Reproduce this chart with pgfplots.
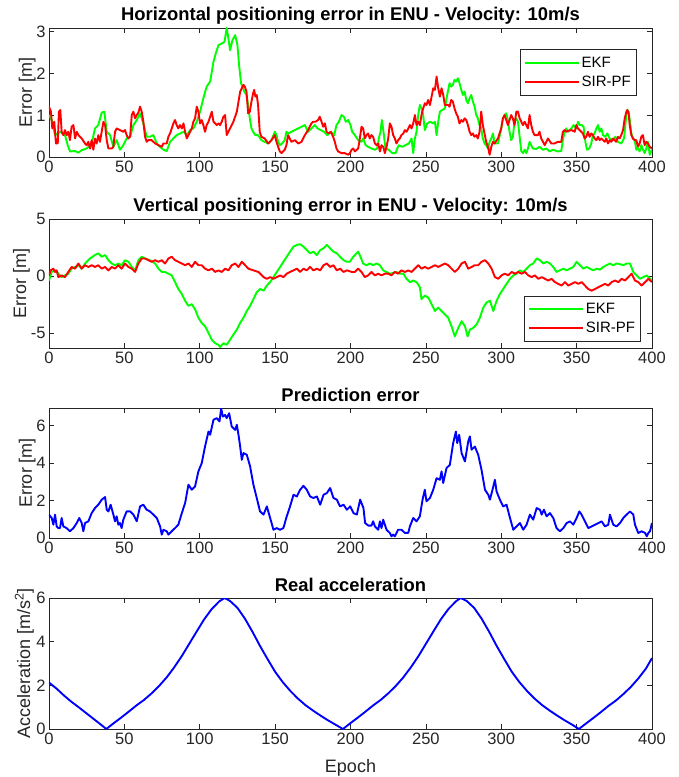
\documentclass[border=0pt]{standalone}
\usepackage{pgfplots}
\pgfplotsset{compat=1.18}
\usepackage{fontspec}
\setmainfont{Liberation Sans}
\definecolor{axgray}{rgb}{0.15,0.15,0.15}
\definecolor{mgreen}{rgb}{0,1,0}
\definecolor{mred}{rgb}{1,0,0}
\definecolor{mblue}{rgb}{0,0,1}
\newcommand{\tickfont}{\fontsize{16.5}{16.5}\selectfont}
\newcommand{\labfont}{\fontsize{18}{18}\selectfont}
\pgfplotsset{
  mat/.style={
    scale only axis, width=603pt, anchor=south west,
    xmin=0, xmax=400, xtick={0,50,...,400},
    axis line style={color=axgray, line width=0.7pt},
    tick style={color=axgray, line width=0.7pt},
    major tick length=5pt, tick align=inside,
    ticklabel style={font=\tickfont, color=axgray},
    /pgf/number format/assume math mode=true,
    every axis title/.style={at={(0.5,1)}, anchor=base, yshift=7pt, font=\bfseries\fontsize{18.4}{18.4}\selectfont},
    every axis y label/.style={at={(axis description cs:-0.0282,0.5)}, rotate=90, anchor=base, font=\labfont, color=axgray},
    every axis plot/.append style={line width=1.9pt, line join=round},
    legend image code/.code={\draw[##1, line width=1.9pt] (0pt,0pt) -- (54pt,0pt);},
    legend cell align=left,
  },
  mleg/.style={draw=axgray, line width=0.6pt, fill=white, font=\fontsize{15}{15}\selectfont, inner xsep=3.5pt, inner ysep=5.5pt, row sep=3pt},
}
\begin{document}
\begin{tikzpicture}[x=1pt,y=1pt]
\useasboundingbox (0,0) rectangle (678,777);
% ---------------- Panel 1
\begin{axis}[mat, at={(49pt,619.7pt)}, height=129.3pt,
  ymin=0, ymax=3.09, ytick={0,1,2,3},
  title={Horizontal positioning error in ENU - Velocity: 10m/s},
  ylabel={Error [m]},
  legend style={mleg, at={(0.781,0.835)}, anchor=north west}]
\addplot[mgreen] coordinates {(0,1.01)(1.8,0.89)(4,0.53)(7.3,0.61)(10.6,0.53)(12.4,0.29)(14,0.14)(17.3,0.15)(19.5,0.11)(21.7,0.17)(25,0.21)(28.3,0.33)(30.5,0.69)(32.7,0.77)(35,1.07)(36.7,1.09)(38.3,0.61)(40.5,0.53)(42.7,0.25)(44.9,0.41)(47.1,0.18)(49.3,0.29)(51.5,0.45)(53.8,0.49)(56,0.77)(58.2,0.89)(60.4,1.05)(62.6,0.81)(64.8,0.49)(67,0.49)(69.2,0.53)(71.5,0.33)(73.7,0.25)(75.9,0.18)(78.1,0.15)(80.3,0.37)(82.5,0.45)(84.7,0.53)(86.9,0.57)(89.2,0.61)(91.4,0.53)(93.6,0.65)(95.8,0.69)(98,0.85)(100.2,1.09)(102.4,1.41)(104.6,1.69)(106.9,1.81)(109.1,2.28)(110.6,2.48)(112.4,2.68)(114.6,2.72)(116.4,2.76)(117.9,3.09)(119,2.84)(120.1,2.56)(121.7,2.80)(123.5,2.92)(125,2.68)(126.1,2.20)(127.4,1.77)(129.6,1.57)(131,1.49)(132.1,1.25)(133.2,0.93)(134.3,0.69)(135.4,0.61)(136.9,0.53)(138.7,0.53)(140.9,0.41)(143.1,0.37)(145.4,0.33)(147.6,0.41)(149.8,0.61)(150.9,0.53)(152,0.37)(153.1,0.29)(154.6,0.33)(156.4,0.41)(157.5,0.61)(159.1,0.57)(160.8,0.61)(163.1,0.65)(165.3,0.69)(167.5,0.73)(169.7,0.77)(170.8,0.69)(171.9,0.61)(174.1,0.69)(176.3,0.77)(178.1,0.69)(180.3,0.65)(182.5,0.61)(184.7,0.53)(186.9,0.61)(189.2,0.53)(190.7,0.77)(192.3,0.85)(194,1.01)(195.6,0.97)(196.9,0.85)(198.5,0.89)(200,0.77)(201.1,0.61)(202.9,0.53)(205.1,0.41)(207.3,0.37)(208.4,0.45)(210,0.29)(211.7,0.25)(213.9,0.21)(216.2,0.18)(217.7,0.21)(218.8,0.45)(219.9,0.61)(220.8,0.89)(221.9,0.61)(223.2,0.21)(225.4,0.18)(227.7,0.10)(229.9,0.10)(231,0.21)(232.1,0.29)(234.3,0.25)(236.5,0.29)(238.7,0.33)(240.5,0.45)(241.6,0.10)(242.7,0.45)(243.8,0.61)(244.9,1.01)(246,1.25)(247.1,1.17)(248.2,1.01)(249.3,0.65)(250.9,0.81)(252.9,0.85)(254.9,0.81)(256,0.85)(257.1,0.53)(258.2,0.85)(259.3,1.09)(260.8,1.13)(262.6,1.17)(263.7,1.41)(264.6,1.57)(265.7,1.77)(266.8,1.69)(267.9,1.73)(269,1.85)(270.1,1.81)(271.2,1.89)(272.3,1.77)(273.5,1.61)(274.6,1.49)(275.7,1.57)(276.8,1.37)(277.9,1.29)(279,1.41)(280.1,1.49)(281.2,1.33)(282.3,1.21)(283.4,1.01)(284.5,0.93)(285.6,0.77)(286.7,0.69)(287.8,0.45)(288.9,0.33)(290,0.29)(291.2,0.21)(292.3,0.37)(293.4,0.45)(294.5,0.57)(295.6,0.33)(297.8,0.33)(300,0.69)(301.1,0.93)(302.2,1.01)(303.3,1.05)(304.4,0.89)(305.5,0.61)(306.6,0.41)(307.7,0.49)(308.8,0.85)(310,0.93)(311.1,0.85)(312.2,0.49)(313.3,0.14)(314.4,0.10)(315.5,0.18)(316.6,0.10)(317.7,0.21)(318.8,0.37)(319.9,0.29)(321,0.21)(323.2,0.20)(325.4,0.25)(327.7,0.18)(329.9,0.21)(332.1,0.14)(334.3,0.18)(337.6,0.14)(339.8,0.15)(340.9,0.41)(342,0.61)(343.1,0.69)(344.2,0.61)(346.5,0.69)(348,0.77)(349.8,0.69)(350.9,0.85)(352,0.77)(353.5,0.77)(354.6,0.73)(355.8,0.37)(356.9,0.18)(358.4,0.21)(359.7,0.33)(360.8,0.53)(361.9,0.57)(363.1,0.69)(364.2,0.77)(365.3,0.61)(366.4,0.69)(367.5,0.53)(369,0.49)(370.4,0.57)(371.9,0.45)(374.1,0.41)(375.7,0.49)(377.4,0.37)(379.6,0.33)(381.4,0.45)(383,1.01)(383.6,1.13)(384.5,1.09)(385.4,0.85)(386.3,0.57)(387.4,0.45)(388.5,0.41)(389.6,0.18)(390.7,0.21)(391.8,0.14)(392.9,0.29)(394,0.18)(395.1,0.10)(396.2,0.21)(397.3,0.37)(398.5,0.06)(400,0.18)};
\addlegendentry{EKF}
\addplot[mred] coordinates {(0,1.21)(1.3,1.09)(2.2,0.69)(3.5,0.85)(4.6,0.33)(5.8,0.33)(6.6,1.09)(7.5,1.13)(8.4,0.61)(9.5,0.53)(10.6,0.65)(11.7,0.53)(12.8,0.61)(13.9,0.41)(15,0.73)(16.2,0.77)(17.3,0.45)(18.4,0.61)(19.5,0.53)(21.7,0.45)(23.9,0.33)(25,0.29)(26.1,0.37)(27.2,0.21)(28.3,0.41)(29.4,0.18)(30.5,0.45)(31.6,0.33)(32.7,0.53)(33.8,0.37)(36.1,0.85)(37.2,0.77)(38.3,0.41)(39.4,0.21)(41.6,0.21)(42.7,0.25)(43.8,0.61)(44.9,0.69)(47.1,0.65)(49.3,0.61)(50.4,0.65)(51.5,0.53)(52.7,0.45)(53.8,0.49)(54.9,1.01)(56,1.09)(57.1,0.93)(58.2,1.01)(59.3,1.07)(60.4,1.21)(61.5,1.09)(62.6,0.85)(63.7,0.49)(64.8,0.37)(65.9,0.41)(68.1,0.41)(70.4,0.33)(72.6,0.29)(74.8,0.25)(75.9,0.33)(78.1,0.33)(79.2,0.49)(80.3,0.57)(81.4,0.69)(82.5,0.81)(83.6,0.89)(84.7,0.77)(85.8,0.69)(86.9,0.77)(88.1,0.69)(89.2,0.81)(90.3,0.61)(91.4,0.45)(92.5,0.53)(93.6,0.61)(94.7,0.69)(95.8,0.85)(96.9,0.93)(98,1.21)(99.1,1.09)(100.2,0.81)(101.3,0.89)(102.4,0.77)(103.5,0.61)(104.6,0.77)(105.8,0.85)(106.9,0.97)(108,1.09)(109.1,0.85)(110.2,0.81)(111.3,0.77)(112.4,0.81)(113.5,0.77)(114.6,0.85)(115.7,0.97)(116.8,1.01)(117.9,0.53)(119,0.61)(120.1,0.69)(122.3,0.85)(124.6,1.09)(126.8,1.57)(129,1.73)(129.9,1.69)(131,1.57)(132.1,1.05)(133.2,1.09)(134.3,1.33)(135.4,1.53)(136.1,1.61)(136.9,1.45)(137.8,1.49)(138.7,1.25)(139.8,0.61)(140.9,0.49)(143.1,0.45)(145.4,0.33)(147.6,0.41)(149.8,0.53)(150.9,0.37)(152,0.25)(153.1,0.14)(154.2,0.10)(156.4,0.18)(157.5,0.29)(158.6,0.53)(159.7,0.45)(160.8,0.37)(163.1,0.41)(165.3,0.33)(167.5,0.37)(169.7,0.53)(171.9,0.65)(174.1,0.81)(175.2,0.85)(176.8,0.85)(178.5,0.89)(179.6,0.97)(180.8,0.85)(181.9,0.73)(183,0.81)(184.1,0.61)(185.6,0.57)(186.9,0.61)(188.5,0.49)(189.6,0.37)(190.7,0.21)(191.8,0.14)(194,0.10)(196.2,0.10)(198.5,0.06)(199.6,0.10)(200.7,0.18)(201.8,0.21)(202.9,0.14)(205.1,0.21)(206.2,0.45)(207.3,0.73)(208.4,0.69)(209.5,0.45)(210.6,0.53)(211.7,0.57)(212.8,0.45)(213.9,0.53)(215,0.49)(216.2,0.33)(217.3,0.29)(218.4,0.33)(219.5,0.14)(220.6,0.29)(221.7,0.25)(222.8,0.10)(223.9,0.25)(225,0.45)(226.1,0.81)(227.2,0.73)(228.3,0.53)(229.4,0.45)(230.5,0.33)(231.6,0.41)(232.7,0.45)(233.8,0.53)(235,0.57)(236.1,0.65)(237.2,0.61)(238.3,0.69)(239.4,0.77)(240.5,0.69)(241.6,0.81)(242.7,1.01)(243.8,0.77)(244.9,0.85)(246,0.77)(247.1,1.01)(248.2,1.17)(249.3,1.29)(250.4,1.25)(251.5,1.37)(252.7,1.25)(253.8,1.45)(254.9,1.65)(256,1.61)(257.1,1.93)(258.2,1.65)(259.3,1.45)(260.4,1.65)(261.5,1.49)(262.6,1.25)(264.8,1.25)(265.7,1.21)(266.8,1.37)(267.9,1.33)(269,1.17)(270.1,1.05)(271.2,0.97)(272.3,0.81)(273.5,0.89)(274.6,0.85)(275.7,0.93)(276.8,0.89)(277.9,0.77)(279,0.61)(280.1,0.53)(281.2,0.57)(282.3,0.49)(283.4,0.53)(284.5,0.45)(285.6,0.61)(286.7,1.09)(287.8,0.77)(288.9,0.57)(290,0.37)(291.2,0.25)(292.3,0.06)(293.4,0.25)(294.5,0.37)(295.6,0.33)(297.8,0.45)(300,0.69)(301.1,0.93)(302.2,1.01)(303.3,0.89)(304.4,0.77)(305.5,0.89)(306.6,1.01)(307.7,0.93)(308.8,0.77)(310,1.09)(311.1,1.09)(312.2,0.93)(313.3,0.85)(314.4,0.77)(315.5,0.85)(316.6,0.77)(317.7,0.69)(318.8,1.01)(319.9,0.77)(321,0.61)(322.1,0.53)(324.3,0.53)(325.4,0.61)(326.5,0.45)(327.7,0.37)(328.8,0.29)(329.9,0.37)(331,0.45)(333.2,0.33)(335.4,0.33)(337.6,0.37)(339.8,0.37)(340.9,0.61)(342,0.65)(343.1,0.61)(344.2,0.63)(346.5,0.65)(348.7,0.61)(349.8,0.77)(350.9,0.69)(353.1,0.61)(354.2,0.57)(355.3,0.45)(356.4,0.49)(357.5,0.61)(358.6,0.49)(359.7,0.57)(360.8,0.53)(361.9,0.45)(363.1,0.41)(364.2,0.49)(365.3,0.41)(366.4,0.45)(368.6,0.37)(369.7,0.45)(370.8,0.33)(371.9,0.41)(373,0.37)(374.1,0.45)(375.2,0.41)(376.3,0.37)(377.4,0.49)(378.5,0.45)(379.6,0.53)(380.8,0.65)(381.9,0.93)(383,1.09)(383.6,1.13)(384.5,1.05)(385.2,0.77)(386.3,0.53)(387.4,0.45)(388.5,0.41)(389.6,0.41)(390.7,0.25)(391.8,0.33)(392.9,0.49)(394,0.53)(395.1,0.29)(396.2,0.37)(397.3,0.33)(398.5,0.25)(400,0.21)};
\addlegendentry{SIR-PF}
\end{axis}
% ---------------- Panel 2
\begin{axis}[mat, at={(49pt,429pt)}, height=129pt,
  ymin=-6.3, ymax=5, ytick={-5,0,5},
  title={Vertical positioning error in ENU - Velocity: 10m/s},
  ylabel={Error [m]},
  every axis y label/.style={at={(axis description cs:-0.0381,0.5)}, rotate=90, anchor=base, font=\labfont, color=axgray},
  legend style={mleg, at={(0.788,0.047)}, anchor=south west}]
\addplot[mgreen] coordinates {(0,-0.39)(1.8,0.36)(4,0.50)(6.2,0.21)(8.4,-0.09)(10.6,0.06)(12.8,0.21)(15,0.65)(17.3,0.80)(19.5,0.95)(21.7,0.65)(23.9,1.10)(27.2,1.54)(30.5,1.84)(32.7,1.99)(35,1.69)(37.2,1.84)(39.4,1.39)(41.6,1.10)(43.8,0.95)(46,1.10)(48.2,0.95)(50.4,1.39)(52.7,1.25)(54.9,0.80)(57.1,0.50)(59.3,1.39)(61.5,1.69)(63.7,1.54)(67,1.39)(70.4,1.10)(72.6,0.65)(74.8,0.36)(77,0.36)(79.2,0.21)(81.4,0.06)(83.6,-0.53)(85.8,-1.13)(88.1,-1.57)(90.3,-2.17)(92.5,-2.61)(94.7,-2.46)(96.9,-2.91)(99.1,-3.65)(101.3,-4.10)(103.5,-4.39)(105.8,-4.99)(108,-5.58)(110.2,-5.88)(112.4,-6.02)(113.5,-6.22)(115.7,-5.88)(117.9,-6.02)(120.1,-5.58)(122.3,-5.13)(124.6,-4.69)(126.8,-4.10)(129,-3.65)(131.2,-3.06)(133.4,-2.61)(135.6,-2.02)(137.8,-1.42)(140,-1.13)(142.3,-1.28)(144.5,-0.83)(146.7,-0.53)(148.9,-0.09)(151.1,0.36)(153.3,0.80)(155.5,1.25)(157.7,1.69)(159.9,2.14)(162.2,2.58)(164.4,2.73)(166.6,2.79)(168.8,2.58)(171,2.28)(173.2,1.99)(175.4,2.14)(177.7,1.84)(179.9,2.28)(182.1,2.43)(184.3,2.73)(186.5,2.43)(188.7,2.14)(190.9,1.99)(193.1,1.69)(195.4,1.39)(197.6,1.25)(199.6,1.25)(201.8,1.69)(204,1.99)(205.1,2.14)(206.6,1.69)(208.4,1.10)(210.6,0.95)(212.8,1.10)(215,0.95)(217.3,1.10)(219.5,0.95)(221.7,0.50)(223.9,0.36)(226.1,0.21)(228.3,0.27)(230.5,0.36)(232.7,0.21)(235,0.21)(237.2,-0.24)(239.4,-0.53)(241.6,-0.39)(243.8,-0.53)(246,-0.98)(247.1,-2.02)(249.3,-1.72)(251.5,-1.87)(253.8,-2.46)(256,-3.06)(258.2,-2.76)(260.4,-3.06)(262.6,-3.35)(264.8,-3.65)(267,-4.39)(269.2,-5.28)(271.5,-4.54)(273.7,-3.95)(275.9,-4.39)(277.7,-5.28)(279.2,-4.69)(281.4,-4.54)(283.6,-4.24)(285.8,-3.65)(288.1,-2.76)(290.3,-2.31)(292.5,-2.17)(294.7,-3.06)(296.9,-2.17)(299.1,-1.57)(301.3,-1.13)(303.5,-0.68)(305.8,-0.24)(308,0.06)(310.2,0.21)(312.4,0.50)(314.6,0.36)(316.8,0.65)(319,0.95)(321.2,1.10)(323.5,1.54)(325.7,1.39)(327.9,1.10)(330.1,1.25)(332.3,1.10)(334.5,0.80)(336.7,0.36)(338.9,0.50)(341.2,0.65)(343.4,0.50)(345.6,0.65)(347.8,0.80)(350,1.25)(352.2,0.95)(354.4,0.65)(356.6,0.80)(358.8,0.65)(361.1,0.50)(363.3,0.65)(365.5,0.56)(367.7,0.80)(369.9,0.95)(372.1,1.10)(374.3,0.95)(376.5,1.10)(378.8,1.04)(381,0.95)(383.2,1.10)(385.4,1.10)(387.6,0.36)(389.8,0.06)(392,-0.24)(394.2,-0.09)(396.5,0.06)(398.7,-0.24)(400,-0.45)};
\addlegendentry{EKF}
\addplot[mred] coordinates {(0,0.06)(1.1,0.50)(2.9,0.65)(4,0.36)(5.1,0.50)(6.2,-0.09)(8.4,0.06)(10.6,-0.09)(12.8,0.36)(15,0.80)(17.3,0.65)(19.5,1.10)(21.7,0.65)(23.9,0.95)(26.1,0.80)(28.3,0.95)(30.5,0.80)(32.7,0.95)(35,0.65)(37.2,0.80)(39.4,0.50)(41.6,0.80)(43.8,0.65)(46,0.95)(48.2,0.65)(50.4,1.10)(52.7,0.80)(54.9,0.65)(57.1,0.36)(59.3,1.10)(61.5,1.54)(63.7,1.54)(65.9,1.39)(68.1,1.25)(70.4,1.39)(72.6,1.25)(74.8,1.39)(77,1.10)(79.2,1.54)(81.4,1.69)(83.6,1.39)(85.8,1.25)(88.1,1.10)(90.3,0.95)(92.5,1.10)(94.7,0.80)(96.9,1.25)(99.1,0.95)(101.3,0.95)(103.5,0.65)(105.8,0.50)(108,0.65)(110.2,0.36)(112.4,0.50)(114.6,0.36)(116.8,0.65)(119,0.50)(121.2,0.95)(123.5,1.10)(125.7,0.80)(127.9,1.25)(130.1,0.95)(132.3,0.65)(135.6,0.50)(138.9,0.36)(142.3,-0.09)(144.5,-0.24)(146.7,-0.09)(148.9,-0.24)(151.1,-0.09)(153.3,0.06)(155.5,-0.09)(157.7,0.21)(159.9,0.36)(162.2,0.50)(164.4,0.65)(166.6,0.36)(168.8,0.65)(171,0.50)(173.2,0.80)(175.4,0.50)(177.7,0.65)(179.9,0.50)(182.1,0.95)(184.3,1.10)(186.5,0.80)(188.7,0.95)(190.9,0.50)(193.1,0.65)(195.4,0.36)(197.6,0.50)(200.9,0.36)(202.9,0.36)(205.1,0.65)(207.3,0.36)(209.5,-0.09)(211.7,0.06)(213.9,0.36)(216.2,0.06)(218.4,0.21)(220.6,0.06)(222.8,0.21)(225,0.21)(227.2,0.06)(229.4,0.36)(231.6,0.21)(233.8,0.50)(236.1,0.36)(238.3,0.50)(240.5,0.36)(242.7,0.65)(244.9,0.95)(247.1,0.65)(249.3,0.80)(251.5,0.65)(253.8,0.80)(256,0.95)(258.2,0.80)(260.4,0.95)(262.6,1.10)(264.8,0.95)(267,0.65)(269.2,0.36)(271.5,0.65)(273.7,1.10)(275.9,1.25)(278.1,0.65)(280.3,0.80)(282.5,0.95)(284.7,0.95)(286.9,1.25)(289.2,1.39)(291.4,1.10)(293.6,0.65)(295.8,-0.09)(298,-0.24)(300.2,0.06)(302.4,0.21)(304.6,0.06)(306.9,0.36)(309.1,0.21)(311.3,0.36)(313.5,0.21)(315.7,0.36)(317.9,0.06)(320.1,-0.09)(322.3,0.06)(324.6,-0.24)(326.8,-0.09)(329,-0.24)(331.2,-0.39)(333.4,-0.24)(335.6,-0.53)(337.8,-0.68)(340,-0.83)(342.3,-0.53)(344.5,-0.83)(346.7,-0.68)(348.9,-0.53)(351.1,-0.68)(353.3,-0.53)(355.5,-0.83)(357.7,-1.13)(360,-1.28)(362.2,-1.13)(364.4,-0.98)(366.6,-0.83)(368.8,-0.68)(371,-0.83)(373.2,-0.53)(375.4,-0.39)(377.7,-0.53)(379.9,-0.24)(382.1,-0.39)(384.3,-0.09)(386.5,0.21)(388.7,-0.39)(390.9,-0.53)(393.1,-0.83)(395.4,-0.53)(397.6,-0.24)(400,-0.53)};
\addlegendentry{SIR-PF}
\end{axis}
% ---------------- Panel 3
\begin{axis}[mat, at={(49pt,239pt)}, height=130pt,
  ymin=0, ymax=6.95, ytick={0,2,4,6},
  title={Prediction error},
  ylabel={Error [m]}]
\addplot[mblue] coordinates {(0,1.25)(1.8,1.07)(2.9,0.71)(4,1.25)(5.1,0.62)(6.2,0.53)(7.3,0.53)(8.4,1.07)(9.5,0.62)(11.7,0.53)(13.9,0.36)(16.2,0.53)(18.4,0.80)(20.1,1.07)(21.7,0.80)(22.8,0.36)(23.9,0.80)(26.1,0.89)(28.3,1.33)(30.5,1.60)(32.7,1.78)(35,2.05)(37.2,2.19)(38.3,1.51)(39.4,1.42)(40.9,1.78)(42.7,1.25)(43.8,0.89)(44.9,1.16)(46,0.71)(47.1,0.80)(48.2,0.53)(49.3,0.98)(51.5,1.42)(53.8,1.42)(56,1.25)(58.2,0.89)(60.4,1.69)(62.6,1.78)(64.8,1.51)(67,1.42)(69.2,1.25)(71.5,1.07)(73.7,0.62)(74.8,0.18)(75.9,0.44)(78.1,0.36)(79.2,0.18)(81.4,0.36)(83.6,0.53)(85.8,0.71)(88.1,1.33)(90.3,1.87)(92.5,2.85)(94.7,2.58)(96.9,2.76)(99.1,3.56)(101.3,4.00)(103.5,4.89)(105.8,5.69)(106.9,5.52)(109.1,6.32)(111.3,6.41)(113.1,6.23)(114.2,6.94)(115.3,6.49)(116.8,6.58)(117.9,6.41)(119.5,6.67)(121.2,5.96)(123.5,5.78)(124.6,6.05)(125.7,5.52)(126.8,4.89)(127.9,4.18)(129,4.54)(131.2,4.45)(133.4,3.83)(135.6,2.85)(137.8,2.14)(140,1.42)(142.3,1.25)(144.5,1.69)(146.7,1.07)(148.9,0.44)(151.1,0.53)(153.3,0.44)(155.5,0.53)(157.7,1.16)(159.9,1.69)(162.2,2.31)(164.4,2.22)(166.6,2.58)(168.8,2.79)(171,2.58)(173.2,2.22)(175.4,2.14)(177.7,2.22)(179.9,1.78)(182.1,2.31)(184.3,2.40)(186.5,2.67)(188.7,2.14)(190.9,2.05)(193.1,1.69)(195.4,1.78)(197.6,1.51)(199.8,1.69)(202,1.33)(204.2,1.25)(206.4,2.05)(208.6,1.60)(209.7,0.80)(211.9,0.66)(213.9,0.66)(215,0.89)(216.2,0.62)(218.4,0.44)(219.5,0.89)(220.6,0.53)(221.7,0.98)(223.9,0.44)(226.1,0.27)(227.2,0.09)(228.3,0.18)(229.4,0.09)(231.6,0.44)(233.8,0.44)(236.1,0.27)(238.3,0.27)(239.4,0.62)(241.6,1.07)(243.8,0.89)(246,1.16)(247.8,2.05)(249.3,2.58)(250.4,1.96)(252.7,2.14)(254.9,2.58)(257.1,3.20)(259.3,3.11)(260.4,3.56)(261.5,2.94)(263.7,3.74)(265.9,3.91)(268.1,5.07)(269.9,5.69)(270.8,5.07)(272.1,5.52)(273.7,4.54)(275.9,4.09)(278.1,5.16)(279.2,5.43)(280.3,4.72)(282.5,4.89)(284.7,4.45)(286.9,3.65)(289.2,2.58)(291.4,2.31)(292.5,2.05)(294.2,2.58)(295.8,3.11)(296.9,2.49)(299.1,2.05)(301.3,1.69)(303.5,1.78)(305.8,1.07)(308,0.44)(310.2,0.62)(312.4,0.80)(314.6,0.44)(316.8,0.71)(319,1.25)(321.2,0.98)(323.5,1.60)(325.7,1.51)(326.8,1.25)(328.3,1.51)(330.1,1.16)(332.3,1.33)(334.5,1.07)(336.7,0.53)(338.9,0.36)(341.2,0.53)(343.4,0.80)(345.6,0.89)(347.8,0.71)(350,1.07)(351.8,1.42)(353.3,1.25)(355.5,0.89)(357.7,0.53)(360,0.62)(362.2,0.71)(364.4,0.80)(366.6,0.89)(368.8,0.62)(371,0.71)(372.1,1.25)(374.3,0.71)(376.5,0.62)(378.8,0.80)(381,1.07)(383.2,1.25)(385.4,1.42)(387.6,1.25)(388.7,0.71)(390.9,0.27)(393.1,0.36)(395.4,0.27)(396.5,0.09)(397.6,0.27)(398.7,0.36)(400,0.80)};
\end{axis}
% ---------------- Panel 4
\begin{axis}[mat, at={(49pt,48pt)}, height=131pt,
  ymin=0, ymax=6, ytick={0,2,4,6},
  title={Real acceleration},
  ylabel={Acceleration [m/s\textsuperscript{2}]},
  every axis y label/.style={at={(axis description cs:-0.0315,0.5)}, rotate=90, anchor=base, font=\labfont, color=axgray},
  xlabel={Epoch},
  every axis x label/.style={at={(axis description cs:0.5,0)}, anchor=base, yshift=-43pt, font=\labfont, color=axgray}]
\addplot[mblue] coordinates {(0,2.13)(5,1.85)(10,1.53)(15,1.24)(20,0.98)(25,0.71)(30,0.44)(35,0.17)(38,0)(43,0.27)(48,0.53)(53,0.80)(58,1.08)(63,1.33)(68,1.63)(73,1.97)(78,2.36)(83,2.82)(88,3.33)(93,3.9)(98,4.47)(103,5.03)(108,5.5)(113,5.85)(116.5,6.0)(120,5.87)(125,5.55)(130,5.05)(135,4.45)(140,3.8)(145,3.2)(150,2.62)(155,2.15)(160,1.75)(165,1.4)(170,1.1)(175,0.85)(180,0.62)(185,0.4)(190,0.2)(195,0)(200,0.27)(205,0.53)(210,0.80)(215,1.08)(220,1.33)(225,1.63)(230,1.97)(235,2.36)(240,2.82)(245,3.33)(250,3.9)(255,4.47)(260,5.03)(265,5.5)(270,5.85)(273,6.0)(277,5.87)(282,5.55)(287,5.05)(292,4.45)(297,3.8)(302,3.2)(307,2.62)(312,2.15)(317,1.75)(322,1.4)(327,1.1)(332,0.85)(337,0.62)(342,0.4)(347,0.2)(351.5,0)(356,0.24)(361,0.50)(366,0.77)(371,1.05)(376,1.30)(381,1.60)(386,1.93)(391,2.32)(396,2.77)(400,3.25)};
\end{axis}
\end{tikzpicture}
\end{document}
